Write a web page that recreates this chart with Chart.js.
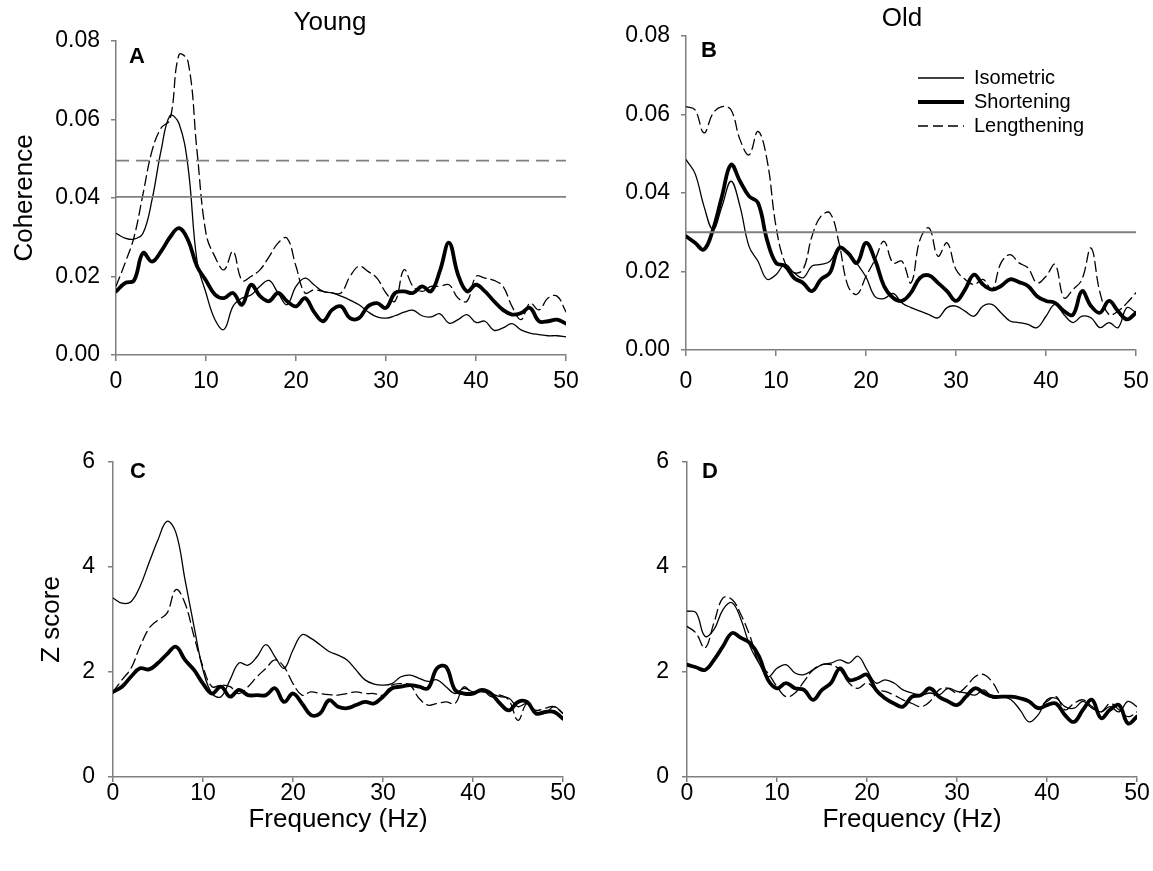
<!DOCTYPE html>
<html>
<head>
<meta charset="utf-8">
<script src="https://cdn.jsdelivr.net/npm/chart.js@4.4.1/dist/chart.umd.min.js"></script>
<style>
  html, body { margin: 0; padding: 0; background: #fff; }
  #wrap { position: relative; width: 1153px; height: 871px; overflow: hidden; }
  canvas { position: absolute; }
</style>
</head>
<body>
<div id="wrap">
  <canvas id="cA" width="580" height="430" style="left:0;top:0"></canvas>
  <canvas id="cB" width="573" height="430" style="left:580px;top:0"></canvas>
  <canvas id="cC" width="580" height="441" style="left:0;top:430px"></canvas>
  <canvas id="cD" width="573" height="441" style="left:580px;top:430px"></canvas>
</div>
<script>
// ---------------- DATA ----------------
const freq = [0,1,2,3,4,5,6,7,8,9,10,11,12,13,14,15,16,17,18,19,20,21,22,23,24,25,26,27,28,29,30,31,32,33,34,35,36,37,38,39,40,41,42,43,44,45,46,47,48,49,50];
const xTicks = [0, 10, 20, 30, 40, 50];
const cohTicks = [0, 0.02, 0.04, 0.06, 0.08];
const zTicks = [0, 2, 4, 6];
const seriesNames = ['Isometric', 'Shortening', 'Lengthening'];

// Panel A – Young, coherence
const youngCohIsometric = [0.031,0.0298,0.0295,0.031,0.0395,0.052,0.061,0.059,0.048,0.024,0.0158,0.009,0.0065,0.0124,0.0145,0.0153,0.0175,0.019,0.0158,0.0128,0.0175,0.0196,0.0179,0.0162,0.0158,0.015,0.014,0.0128,0.011,0.0097,0.0094,0.01,0.0109,0.0114,0.01,0.0097,0.0105,0.0081,0.009,0.0103,0.0083,0.0086,0.0063,0.0069,0.008,0.0064,0.0056,0.0052,0.0049,0.0049,0.0046];
const youngCohShortening = [0.0162,0.0183,0.019,0.026,0.0238,0.0264,0.030,0.0323,0.0293,0.0226,0.019,0.0154,0.0145,0.0158,0.0128,0.0179,0.015,0.0137,0.0158,0.0137,0.0124,0.0145,0.011,0.0086,0.0115,0.0124,0.0094,0.0094,0.0124,0.0132,0.012,0.0158,0.0162,0.0158,0.0175,0.0162,0.0215,0.0286,0.0205,0.0162,0.0179,0.0162,0.0137,0.0115,0.0103,0.0107,0.012,0.0086,0.0086,0.009,0.008];
const youngCohLengthening = [0.0175,0.0234,0.030,0.041,0.052,0.0578,0.060,0.0765,0.0748,0.052,0.031,0.025,0.0217,0.0264,0.019,0.020,0.0217,0.025,0.0285,0.0298,0.0226,0.0158,0.0166,0.0162,0.0158,0.0158,0.020,0.0226,0.0213,0.0196,0.0158,0.0137,0.0217,0.0175,0.0162,0.0175,0.0175,0.0179,0.0145,0.0137,0.020,0.0196,0.019,0.0175,0.0124,0.009,0.0132,0.0115,0.0145,0.015,0.011];
const youngCohThresholdSolid = 0.0403;
const youngCohThresholdDashed = 0.0495;

// Panel B – Old, coherence
const oldCohIsometric = [0.0485,0.045,0.0366,0.0307,0.0366,0.043,0.0366,0.0264,0.0226,0.018,0.0192,0.0218,0.0197,0.0184,0.0214,0.0218,0.0226,0.026,0.0247,0.022,0.0186,0.0136,0.0131,0.0144,0.012,0.0108,0.0099,0.009,0.0082,0.0108,0.0112,0.0099,0.0086,0.0112,0.0116,0.0095,0.0074,0.007,0.0065,0.0057,0.0086,0.0116,0.009,0.007,0.0086,0.0082,0.0057,0.007,0.0057,0.0108,0.0095];
const oldCohShortening = [0.029,0.0273,0.0256,0.0307,0.0392,0.0472,0.043,0.0392,0.0375,0.0281,0.0222,0.0214,0.0184,0.0171,0.015,0.018,0.0197,0.026,0.0247,0.0222,0.0273,0.023,0.0163,0.0133,0.0125,0.0146,0.0184,0.019,0.0171,0.015,0.0125,0.0154,0.0192,0.0167,0.0154,0.0163,0.018,0.0173,0.0163,0.0137,0.0125,0.012,0.0099,0.009,0.015,0.0112,0.0095,0.0125,0.0099,0.0078,0.0095];
const oldCohLengthening = [0.062,0.0612,0.0553,0.0603,0.062,0.0612,0.0536,0.0497,0.0557,0.0485,0.0315,0.0222,0.0197,0.0205,0.029,0.0341,0.0349,0.0273,0.0163,0.0142,0.0188,0.023,0.0277,0.0222,0.0226,0.0171,0.0281,0.0311,0.0239,0.0273,0.0205,0.018,0.0167,0.018,0.0154,0.0222,0.0243,0.0222,0.0209,0.0171,0.0188,0.0218,0.0133,0.0154,0.018,0.026,0.0146,0.009,0.0099,0.012,0.0146];
const oldCohThresholdSolid = 0.030;

// Panel C – Young, Z score
const youngZIsometric = [3.41,3.31,3.34,3.63,4.08,4.52,4.87,4.65,3.76,2.87,2.04,1.59,1.53,1.85,2.17,2.13,2.29,2.52,2.29,2.07,2.42,2.71,2.64,2.52,2.39,2.32,2.23,2.04,1.85,1.77,1.75,1.78,1.91,1.94,1.88,1.82,1.85,1.72,1.59,1.69,1.62,1.62,1.59,1.53,1.50,1.34,1.40,1.21,1.21,1.34,1.21];
const youngZShortening = [1.62,1.72,1.91,2.07,2.05,2.17,2.34,2.48,2.23,2.04,1.78,1.59,1.72,1.53,1.66,1.56,1.56,1.56,1.69,1.43,1.59,1.40,1.18,1.21,1.46,1.34,1.31,1.37,1.43,1.40,1.53,1.69,1.72,1.75,1.72,1.69,2.07,2.10,1.66,1.59,1.59,1.66,1.59,1.40,1.27,1.43,1.43,1.21,1.24,1.24,1.11];
const youngZLengthening = [1.62,1.85,2.07,2.48,2.83,2.99,3.12,3.57,3.31,2.68,2.10,1.72,1.75,1.72,1.59,1.72,1.91,2.07,2.23,2.10,1.78,1.56,1.62,1.59,1.57,1.56,1.59,1.62,1.59,1.59,1.56,1.75,1.78,1.75,1.50,1.37,1.40,1.43,1.40,1.72,1.59,1.66,1.53,1.56,1.46,1.08,1.40,1.27,1.31,1.34,1.21];

// Panel D – Old, Z score
const oldZIsometric = [3.16,3.13,2.68,2.81,3.19,3.32,3.00,2.49,2.17,1.91,2.07,2.14,1.98,1.95,2.04,2.14,2.17,2.23,2.17,2.30,2.04,1.79,1.85,1.79,1.66,1.60,1.56,1.60,1.56,1.69,1.63,1.60,1.56,1.66,1.50,1.53,1.47,1.28,1.05,1.18,1.47,1.50,1.34,1.31,1.44,1.31,1.24,1.34,1.24,1.44,1.34];
const oldZShortening = [2.14,2.09,2.04,2.23,2.49,2.74,2.65,2.55,2.30,1.85,1.69,1.79,1.69,1.66,1.47,1.66,1.79,2.07,1.85,1.88,1.95,1.66,1.50,1.40,1.34,1.53,1.56,1.69,1.53,1.44,1.37,1.53,1.69,1.60,1.53,1.53,1.53,1.50,1.44,1.31,1.37,1.40,1.18,1.05,1.28,1.47,1.12,1.28,1.37,1.02,1.15];
const oldZLengthening = [2.87,2.74,2.46,2.94,3.41,3.38,3.09,2.68,2.17,1.98,1.72,1.53,1.60,1.82,2.04,2.14,2.14,2.04,1.79,1.69,1.79,1.66,1.63,1.56,1.47,1.40,1.34,1.44,1.66,1.69,1.60,1.72,1.91,1.95,1.79,1.53,1.53,1.50,1.44,1.34,1.44,1.53,1.28,1.40,1.47,1.34,1.24,1.40,1.28,1.15,1.24];

// ---------------- RENDERING ----------------
Chart.defaults.font.family = '"Liberation Sans", Arial, sans-serif';
Chart.defaults.color = '#000';
const AXIS_GRAY = '#7f7f7f';

function pts(values) { return values.map((v, i) => ({ x: freq[i], y: v })); }
function flat(v) { return [{ x: freq[0], y: v }, { x: freq[freq.length - 1], y: v }]; }

const styles = {
  Isometric:   { borderWidth: 1.3, borderDash: [] },
  Shortening:  { borderWidth: 3.8, borderDash: [] },
  Lengthening: { borderWidth: 1.3, borderDash: [10, 5] }
};

function curve(name, values) {
  const s = styles[name];
  return {
    label: name, data: pts(values), borderColor: '#000', borderWidth: s.borderWidth,
    borderDash: s.borderDash, pointRadius: 0, tension: 0.4, fill: false, borderCapStyle: 'round', borderJoinStyle: 'round'
  };
}
function threshold(v, dashed) {
  return {
    label: 'threshold', data: flat(v), borderColor: '#7f7f7f', borderWidth: 1.8,
    borderDash: dashed ? [13, 7] : [], pointRadius: 0, tension: 0, fill: false, isThreshold: true
  };
}

const annot = {
  id: 'annot',
  afterDraw(chart, args, o) {
    const ctx = chart.ctx;
    ctx.save();
    ctx.fillStyle = '#000';
    if (o.letter) {
      ctx.font = 'bold 22px "Liberation Sans", Arial, sans-serif';
      ctx.textAlign = 'left';
      ctx.textBaseline = 'alphabetic';
      ctx.fillText(o.letter, chart.chartArea.left + o.letterDx, chart.chartArea.top + o.letterDy);
    }
    if (o.title) {
      ctx.font = '26px "Liberation Sans", Arial, sans-serif';
      ctx.textAlign = 'center';
      ctx.textBaseline = 'middle';
      ctx.fillText(o.title, o.titleX, o.titleY);
    }
    if (o.legend) {
      ctx.font = '20px "Liberation Sans", Arial, sans-serif';
      ctx.textAlign = 'left';
      ctx.textBaseline = 'middle';
      const lg = o.legend;
      chart.data.datasets.filter(d => !d.isThreshold).forEach((d, i) => {
        const y = lg.y + i * lg.dy;
        ctx.beginPath();
        ctx.strokeStyle = '#000';
        ctx.lineWidth = d.borderWidth;
        ctx.setLineDash(d.borderDash || []);
        ctx.lineCap = 'butt';
        ctx.moveTo(lg.x1, y); ctx.lineTo(lg.x2, y);
        ctx.stroke();
        ctx.setLineDash([]);
        ctx.fillText(d.label, lg.tx, y);
      });
    }
    ctx.restore();
  }
};

function makeChart(id, cfg) {
  const canvas = document.getElementById(id);
  const W = canvas.width, H = canvas.height;
  const area = cfg.area;
  return new Chart(canvas, {
    type: 'line',
    data: { datasets: cfg.datasets },
    plugins: [annot],
    options: {
      responsive: false, animation: false, devicePixelRatio: 1,
      layout: { padding: { left: cfg.padLeft, top: area.top, right: W - area.right, bottom: H - area.bottom - cfg.xH } },
      plugins: { legend: { display: false }, tooltip: { enabled: false }, annot: cfg.annot },
      scales: {
        x: {
          type: 'linear', min: 0, max: 50,
          afterBuildTicks: (s) => { s.ticks = xTicks.map(v => ({ value: v })); },
          afterFit: (s) => { s.height = cfg.xH; s.paddingLeft = 0; s.paddingRight = 0; },
          border: { color: AXIS_GRAY, width: 1.5 },
          grid: { drawOnChartArea: false, drawTicks: true, tickLength: cfg.xTick, color: AXIS_GRAY, lineWidth: 1.5 },
          ticks: { font: { size: 23 }, color: '#000', padding: cfg.xPad, maxRotation: 0 },
          title: cfg.xTitle ? { display: true, text: cfg.xTitle, font: { size: 26 }, color: '#000', padding: { top: 0, bottom: 0 } } : { display: false }
        },
        y: {
          type: 'linear', min: cfg.yTicks[0], max: cfg.yTicks[cfg.yTicks.length - 1],
          afterBuildTicks: (s) => { s.ticks = cfg.yTicks.map(v => ({ value: v })); },
          afterFit: (s) => { s.width = area.left - cfg.padLeft; s.paddingTop = 0; s.paddingBottom = 0; },
          border: { color: AXIS_GRAY, width: 1.5 },
          grid: { drawOnChartArea: false, drawTicks: true, tickLength: 5, color: AXIS_GRAY, lineWidth: 1.5 },
          ticks: { font: { size: 23 }, color: '#000', padding: cfg.yPad, callback: cfg.yFmt },
          title: cfg.yTitle ? { display: true, text: cfg.yTitle, font: { size: 26 }, color: '#000', padding: { top: 0, bottom: 0 } } : { display: false }
        }
      }
    }
  });
}

const cohFmt = (v) => Number(v).toFixed(2);
const zFmt = (v) => String(v);

makeChart('cA', {
  area: { left: 116, top: 41, right: 566, bottom: 355 }, padLeft: 9, xH: 44, xTick: 6, xPad: 7, yPad: 11,
  yTicks: cohTicks, yFmt: cohFmt, yTitle: 'Coherence',
  datasets: [
    threshold(youngCohThresholdDashed, true), threshold(youngCohThresholdSolid, false),
    curve('Isometric', youngCohIsometric), curve('Shortening', youngCohShortening), curve('Lengthening', youngCohLengthening)
  ],
  annot: { letter: 'A', letterDx: 13, letterDy: 22, title: 'Young', titleX: 330, titleY: 23 }
});

makeChart('cB', {
  area: { left: 106, top: 36, right: 556, bottom: 350 }, padLeft: 0, xH: 48, xTick: 6, xPad: 12, yPad: 11,
  yTicks: cohTicks, yFmt: cohFmt,
  datasets: [
    threshold(oldCohThresholdSolid, false),
    curve('Isometric', oldCohIsometric), curve('Shortening', oldCohShortening), curve('Lengthening', oldCohLengthening)
  ],
  annot: { letter: 'B', letterDx: 15, letterDy: 21, title: 'Old', titleX: 322, titleY: 19,
           legend: { x1: 338, x2: 384, tx: 394, y: 78, dy: 24 } }
});

makeChart('cC', {
  area: { left: 113, top: 32, right: 563, bottom: 347 }, padLeft: 36, xH: 58, xTick: 5, xPad: -2, yPad: 13,
  yTicks: zTicks, yFmt: zFmt, yTitle: 'Z score', xTitle: 'Frequency (Hz)',
  datasets: [
    curve('Isometric', youngZIsometric), curve('Shortening', youngZShortening), curve('Lengthening', youngZLengthening)
  ],
  annot: { letter: 'C', letterDx: 17, letterDy: 16 }
});

makeChart('cD', {
  area: { left: 107, top: 32, right: 557, bottom: 347 }, padLeft: 0, xH: 58, xTick: 5, xPad: -2, yPad: 13,
  yTicks: zTicks, yFmt: zFmt, xTitle: 'Frequency (Hz)',
  datasets: [
    curve('Isometric', oldZIsometric), curve('Shortening', oldZShortening), curve('Lengthening', oldZLengthening)
  ],
  annot: { letter: 'D', letterDx: 15, letterDy: 16 }
});
</script>
</body>
</html>
